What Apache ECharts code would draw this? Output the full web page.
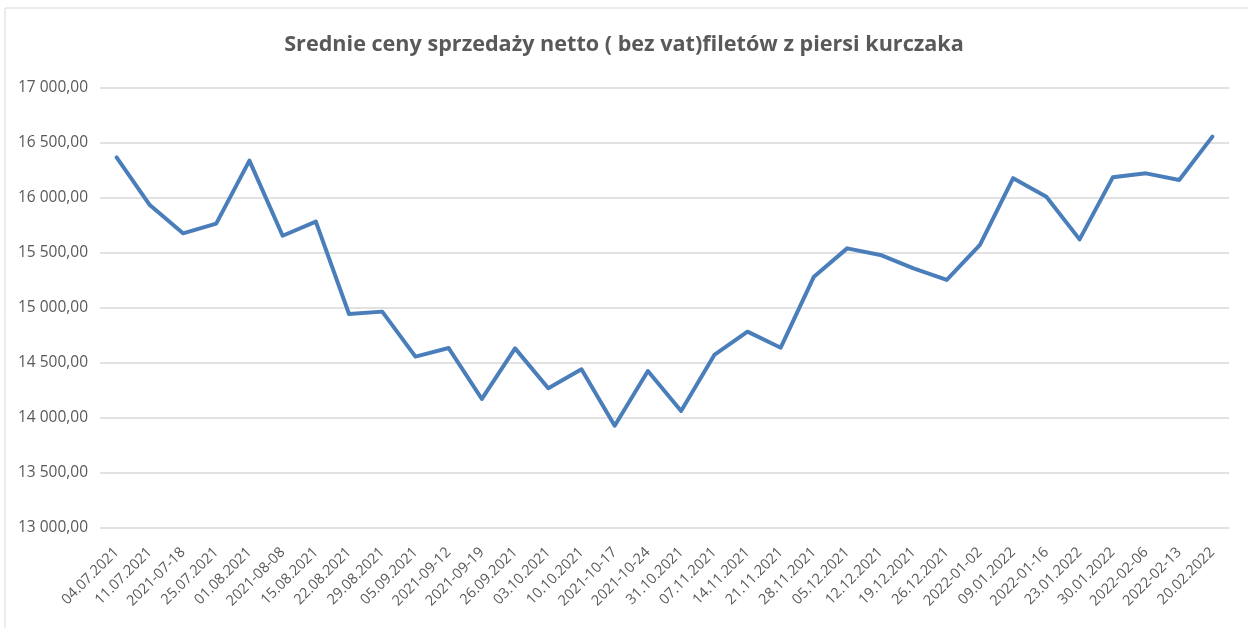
<!DOCTYPE html>
<html>
<head>
<meta charset="utf-8">
<script src="https://cdn.jsdelivr.net/npm/echarts@6/dist/echarts.min.js"></script>
<style>
  html, body { margin: 0; padding: 0; background: #fff; }
  #chart { width: 1248px; height: 628px; }
</style>
</head>
<body>
<div id="chart"></div>
<script>
// kategorie (daty)
const dates = [
  '04.07.2021', '11.07.2021', '2021-07-18', '25.07.2021', '01.08.2021', '2021-08-08',
  '15.08.2021', '22.08.2021', '29.08.2021', '05.09.2021', '2021-09-12', '2021-09-19',
  '26.09.2021', '03.10.2021', '10.10.2021', '2021-10-17', '2021-10-24', '31.10.2021',
  '07.11.2021', '14.11.2021', '21.11.2021', '28.11.2021', '05.12.2021', '12.12.2021',
  '19.12.2021', '26.12.2021', '2022-01-02', '09.01.2022', '2022-01-16', '23.01.2022',
  '30.01.2022', '2022-02-06', '2022-02-13', '20.02.2022'
];

// ceny netto
const prices = [
  16370, 15936, 15679, 15767, 16340, 15657,
  15785, 14945, 14967, 14558, 14636, 14173,
  14633, 14270, 14443, 13930, 14427, 14064,
  14573, 14785, 14639, 15285, 15542, 15482,
  15361, 15255, 15573, 16180, 16012, 15624,
  16188, 16224, 16164, 16558
];

const yTicks = { min: 13000, max: 17000, step: 500 };

// 17000 -> "17 000,00"
function plFormat(v) {
  const parts = v.toFixed(2).split('.');
  return parts[0].replace(/\B(?=(\d{3})+(?!\d))/g, ' ') + ',' + parts[1];
}

const chart = echarts.init(document.getElementById('chart'));
chart.setOption({
  animation: false,
  backgroundColor: '#fff',
  textStyle: { fontFamily: 'Open Sans' },
  title: {
    text: 'Srednie ceny sprzedaży netto ( bez vat)filetów z piersi kurczaka',
    left: 'center',
    top: 29,
    textStyle: { fontSize: 21.6, fontWeight: 'bold', color: '#595959', fontFamily: 'Open Sans' }
  },
  graphic: [{
    type: 'rect',
    shape: { x: 5, y: 8, width: 1270, height: 650 },
    style: { fill: 'none', stroke: '#d9d9d9', lineWidth: 1 },
    silent: true
  }],
  grid: { left: 100, right: 19, top: 88, bottom: 100, containLabel: false },
  xAxis: {
    type: 'category',
    data: dates,
    boundaryGap: true,
    axisLine: { show: false },
    axisTick: { show: false },
    axisLabel: { rotate: 45, interval: 0, margin: 22, fontSize: 14.5, color: '#595959' }
  },
  yAxis: {
    type: 'value',
    min: yTicks.min,
    max: yTicks.max,
    interval: yTicks.step,
    axisLine: { show: false },
    axisTick: { show: false },
    axisLabel: { fontSize: 15.5, color: '#595959', margin: 12, formatter: plFormat },
    splitLine: { lineStyle: { color: '#d9d9d9', width: 1.5 } }
  },
  series: [{
    type: 'line',
    data: prices,
    symbol: 'none',
    lineStyle: { color: '#4a7ebb', width: 4, cap: 'round', join: 'round' }
  }]
});
</script>
</body>
</html>
